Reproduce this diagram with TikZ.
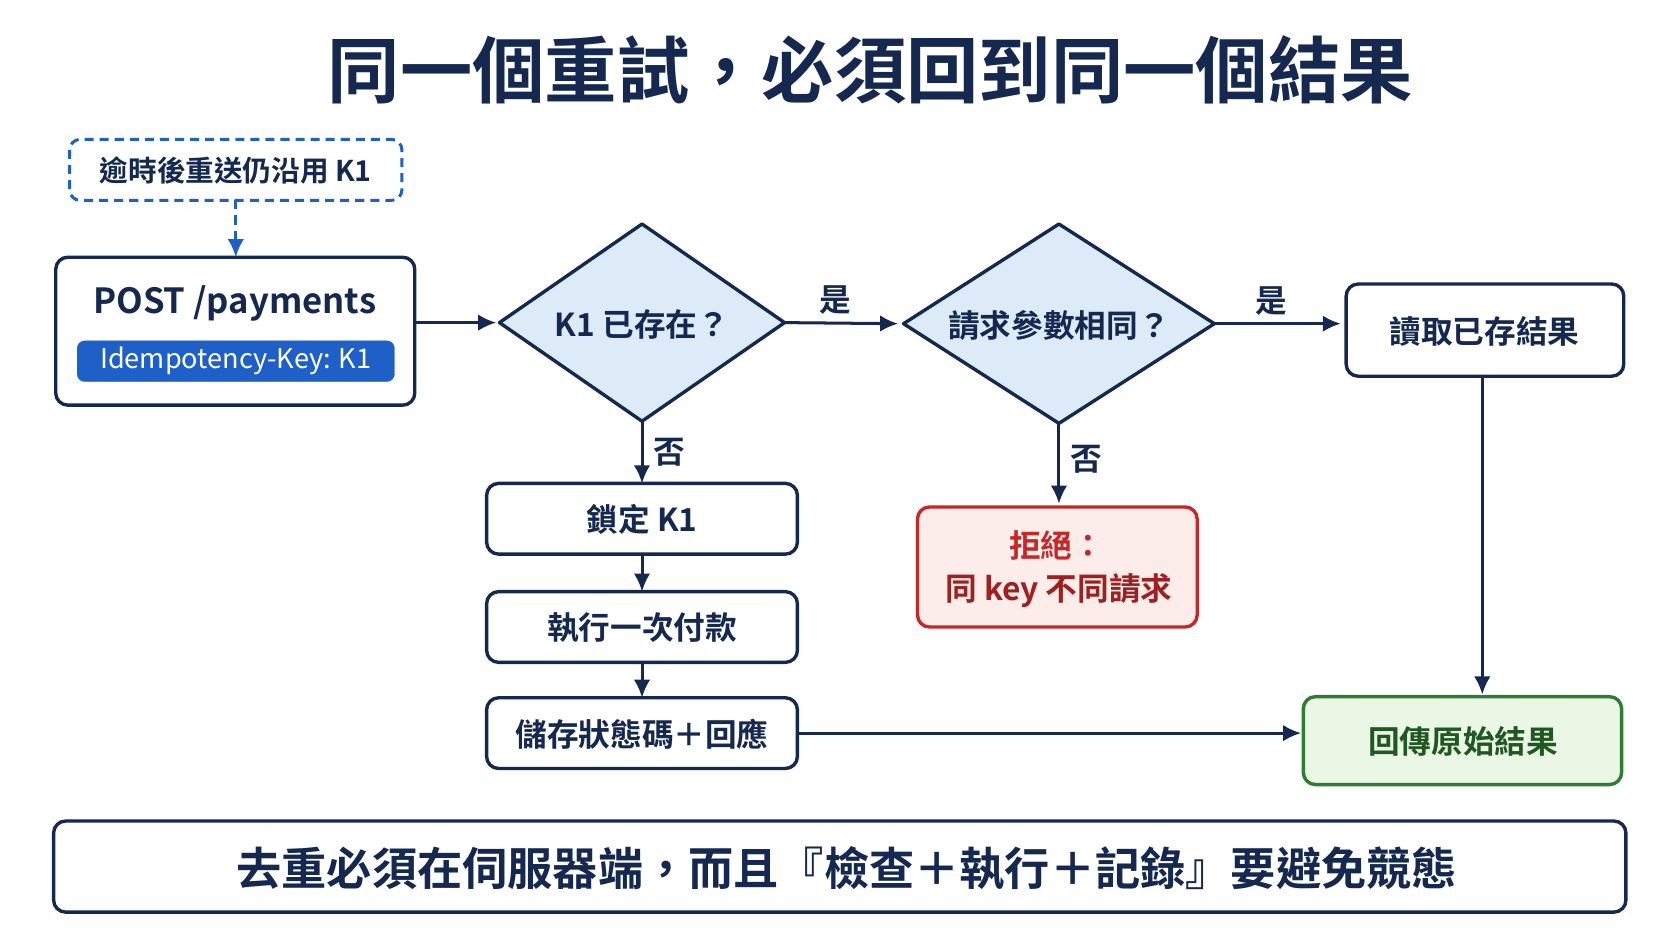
\documentclass[tikz,border=0pt]{standalone}
\usepackage{fontspec}
\setmainfont{Noto Sans CJK TC}[BoldFont={Noto Sans CJK TC Bold}]
\usetikzlibrary{shapes.geometric,arrows.meta}
\definecolor{navy}{HTML}{142850}
\definecolor{blu}{HTML}{1F5FC8}
\definecolor{lblue}{HTML}{DDEBF8}
\definecolor{rd}{HTML}{C62828}
\definecolor{lrd}{HTML}{FDEDEA}
\definecolor{gr}{HTML}{2E7D32}
\definecolor{lgr}{HTML}{EAF7E4}
\begin{document}
\begin{tikzpicture}[x=0.05cm,y=-0.05cm,
  box/.style={draw=navy,line width=4.5pt,rounded corners=16pt,fill=white},
  txt/.style={font=\fontsize{42}{48}\selectfont\bfseries,text=navy},
  arr/.style={draw=navy,line width=4pt,-{Latex[length=24pt,width=22pt]}},
  dia/.style={draw=navy,line width=4.5pt,fill=lblue,line join=round}]
\useasboundingbox (0,0) rectangle (1560,878);
\node[txt,font=\fontsize{96}{100}\selectfont\bfseries] (title) at (812,65) {同一個重試，必須回到同一個結果};
% dashed
\draw[blu,line width=4pt,dash pattern=on 12pt off 8pt,rounded corners=14pt,fill=white] (65,130) rectangle (375,187);
\node[txt,font=\fontsize{38}{44}\selectfont\bfseries] (dash) at (220,159) {逾時後重送仍沿用 K1};
\coordinate (dashb) at (220,187);
% post
\draw[box] (52,240) rectangle (387,378);
\coordinate (postr) at (387,301);
\coordinate (postt) at (220,240);
\node[txt,font=\fontsize{46}{52}\selectfont\bfseries] (post) at (219,283) {POST /payments};
\draw[fill=blu,draw=blu,rounded corners=10pt] (72,318) rectangle (368,356);
\node[text=white,font=\fontsize{36}{40}\selectfont] (key) at (220,337) {Idempotency-Key: K1};
\draw[blu,line width=4pt,dash pattern=on 12pt off 8pt,-{Latex[length=24pt,width=22pt]}] (dashb) -- (postt);
% diamonds
\path[dia] (466,301) -- (599,209) -- (732,301) -- (599,393) -- cycle;
\node[txt] (d1t) at (599,303) {K1 已存在？};
\path[dia] (843,302) -- (988,209) -- (1133,302) -- (988,395) -- cycle;
\node[txt] (d2t) at (988,304) {請求參數相同？};
\coordinate (d1l) at (463,301); \coordinate (d1r) at (732,301); \coordinate (d1b) at (599,393);
\coordinate (d2l) at (838,302); \coordinate (d2r) at (1133,302); \coordinate (d2b) at (988,395);
% boxes
\draw[box] (1256,265) rectangle (1515,351);
\node[txt] (read) at (1385,309) {讀取已存結果};
\draw[box] (454,451) rectangle (744,517);
\node[txt] (lock) at (599,485) {鎖定 K1};
\draw[box] (454,552) rectangle (744,618);
\node[txt] (exec) at (599,586) {執行一次付款};
\draw[box] (454,651) rectangle (744,717);
\node[txt] (store) at (599,685) {儲存狀態碼＋回應};
\draw[box,draw=rd,fill=lrd] (856,473) rectangle (1117,585);
\node[txt,text=rd] (rej1) at (986,509) {拒絕：};
\node[txt,text=rd!80!black] (rej2) at (988,551) {同 key 不同請求};
\draw[box,draw=gr,fill=lgr] (1216,650) rectangle (1513,732);
\node[txt,text=gr!70!black] (ret) at (1365,692) {回傳原始結果};
\draw[box] (50,766) rectangle (1517,851);
\node[txt,font=\fontsize{60}{66}\selectfont\bfseries] (bottom) at (790,810) {去重必須在伺服器端，而且『檢查＋執行＋記錄』要避免競態};
% arrows
\draw[arr] (postr) -- (d1l);
\draw[arr] (d1r) -- (d2l) node[pos=0.45,above=6pt,txt] {是};
\draw[arr] (d2r) -- (1251,302) node[pos=0.45,above=6pt,txt] {是};
\draw[arr] (d1b) -- (599,451) node[pos=0.5,right=10pt,txt] {否};
\draw[arr] (d2b) -- (988,470) node[pos=0.45,right=10pt,txt] {否};
\draw[arr] (599,517) -- (599,552);
\draw[arr] (599,618) -- (599,651);
\draw[arr] (744,684) -- (1214,684);
\draw[arr] (1383,351) -- (1383,648);
\end{tikzpicture}
\end{document}
